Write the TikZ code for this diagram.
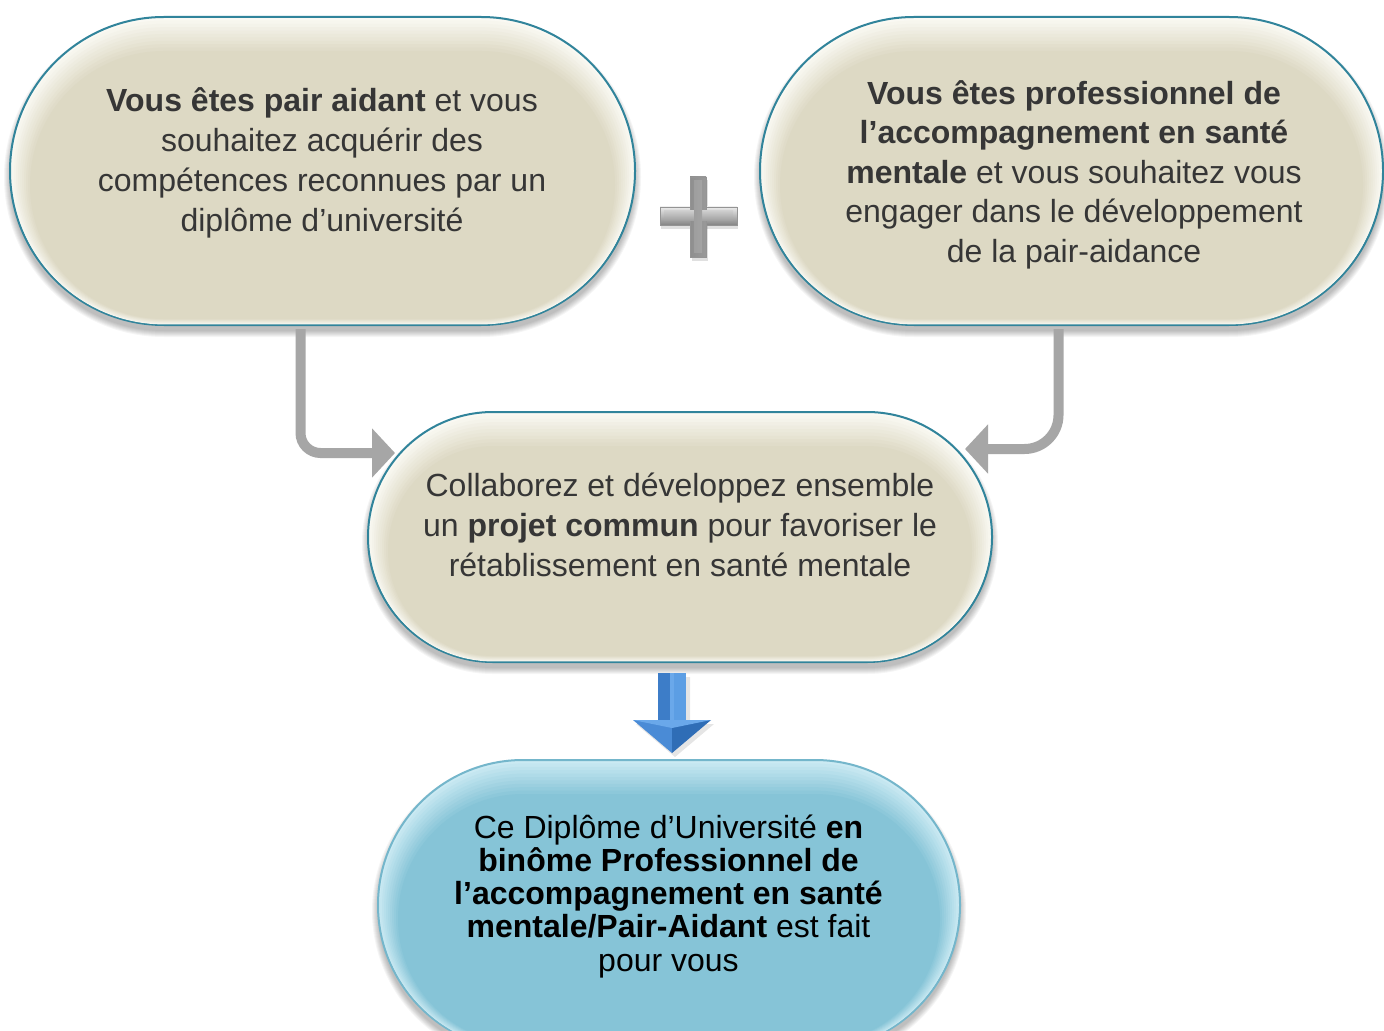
\documentclass[tikz,border=0pt]{standalone}
\usepackage{fontspec}
\setmainfont{Liberation Sans}
\usetikzlibrary{shapes.misc,arrows.meta,calc}
\definecolor{beigebase}{HTML}{DDD9C4}
\definecolor{beigerim}{HTML}{FAF9F3}
\definecolor{tealline}{HTML}{31849B}
\definecolor{bluebase}{HTML}{86C4D7}
\definecolor{bluerim}{HTML}{CBEAF3}
\definecolor{blueline}{HTML}{74B6CB}
\definecolor{textgray}{HTML}{363636}
\definecolor{conngray}{HTML}{A6A6A6}
\definecolor{arrA}{HTML}{3D7DC8}
\definecolor{arrB}{HTML}{5C9EE4}
\definecolor{arrC}{HTML}{2F6DB6}
\definecolor{arrD}{HTML}{4A8BD6}
\definecolor{arrE}{HTML}{6AA8EA}
\tikzset{
  stad/.style={shape=rounded rectangle, inner sep=0pt, outer sep=0pt, draw=none},
  txt/.style={align=center, inner sep=0pt, text=textgray, font=\fontsize{16pt}{20pt}\selectfont},
  conn/.style={draw=conngray, line width=5pt, -{Triangle[length=11.5pt,width=24pt]}},
}
% name, cx, cy, w, h, base, rim, border
\newcommand\stadbox[8]{%
  \foreach \k in {6,5,...,0}{%
    \node[stad, fill=black, fill opacity=0.04,
      minimum width={(#4+2*\k)*0.5pt}, minimum height={(#5+2*\k)*0.5pt}] at (#2,{#3-6}) {};
  }%
  \node[stad, fill=#7, draw=#8, line width=1pt,
    minimum width={#4*0.5pt}, minimum height={#5*0.5pt}] (#1) at (#2,#3) {};
  \foreach \k in {1,...,10}{%
    \pgfmathtruncatemacro\pc{\k*10}%
    \node[stad, fill=#6!\pc!#7,
      minimum width={(#4-4*\k)*0.5pt}, minimum height={(#5-4*\k)*0.5pt}] at (#2,{#3-\k*1.4}) {};
  }%
}
\begin{document}
\begin{tikzpicture}[x=0.5pt,y=0.5pt]
\fill[white] (0,0) rectangle (1384,1030);
\clip (0,0) rectangle (1384,1030);

% boxes
\stadbox{A}{322.5}{859}{625}{308}{beigebase}{beigerim}{tealline}
\stadbox{B}{1071.5}{859}{623}{308}{beigebase}{beigerim}{tealline}
\stadbox{C}{680}{493}{624}{250}{beigebase}{beigerim}{tealline}
\stadbox{D}{669}{125}{582}{290}{bluebase}{bluerim}{blueline}

% texts
\node[txt] (At) at (322,867.5) {\textbf{Vous êtes pair aidant} et vous\\souhaitez acquérir des\\compétences reconnues par un\\diplôme d’université};
\node[txt, font=\fontsize{16pt}{19.7pt}\selectfont] (Bt) at (1074,855.3) {\textbf{Vous êtes professionnel de}\\\textbf{l’accompagnement en santé}\\\textbf{mentale} et vous souhaitez vous\\engager dans le développement\\de la pair-aidance};
\node[txt] (Ct) at (680,504.7) {Collaborez et développez ensemble\\un \textbf{projet commun} pour favoriser le\\rétablissement en santé mentale};
\node[txt, text=black, font=\fontsize{16pt}{16.6pt}\selectfont] (Dt) at (668.5,133.8) {Ce Diplôme d’Université \textbf{en}\\\textbf{binôme Professionnel de}\\\textbf{l’accompagnement en santé}\\\textbf{mentale/Pair-Aidant} est fait\\pour vous};

% grey connectors
\draw[conn, rounded corners=10pt] ($(A.south)+(-22,-4)$) |- ($(C.center)+(-285,84)$);
\draw[conn, rounded corners=17pt] ($(B.south)+(-13,-4)$) |- ($(C.center)+(285,88)$);

% plus sign
\coordinate (P) at (698,814);
\fill[black, opacity=0.12] ($(P)+(-37,-13)$) rectangle ($(P)+(40,5)$);
\fill[black, opacity=0.12] ($(P)+(-6,-45)$) rectangle ($(P)+(10,36)$);
\shade[top color=white!92!black, middle color=white!72!black, bottom color=white!52!black, draw=white!58!black, line width=0.4pt]
  ($(P)+(-38,-9)$) rectangle ($(P)+(39,9)$);
\shade[left color=white!56!black, middle color=white!90!black, right color=white!60!black, draw=white!58!black, line width=0.4pt]
  ($(P)+(-8,-41)$) rectangle ($(P)+(8,39)$);
\shade[top color=white!80!black, bottom color=white!62!black]
  ($(P)+(-34,-5)$) rectangle ($(P)+(35,5)$);
\shade[left color=white!62!black, middle color=white!85!black, right color=white!64!black]
  ($(P)+(-4,-37)$) rectangle ($(P)+(4,35)$);

% blue block arrow
\fill[black, opacity=0.10] (661,353) rectangle (690,306) -- (714,306) -- (675,273) -- (636,306) -- cycle;
\fill[arrA] (658,357) rectangle (672,310);
\fill[arrB] (672,357) rectangle (686,310);
\fill[arrE] (670,357) rectangle (674,310);
\fill[arrD] (633,310) -- (672,310) -- (672,277) -- cycle;
\fill[arrC] (672,310) -- (711,310) -- (672,277) -- cycle;
\fill[arrE] (633,310) -- (711,310) -- (672,302) -- cycle;
\end{tikzpicture}
\end{document}
